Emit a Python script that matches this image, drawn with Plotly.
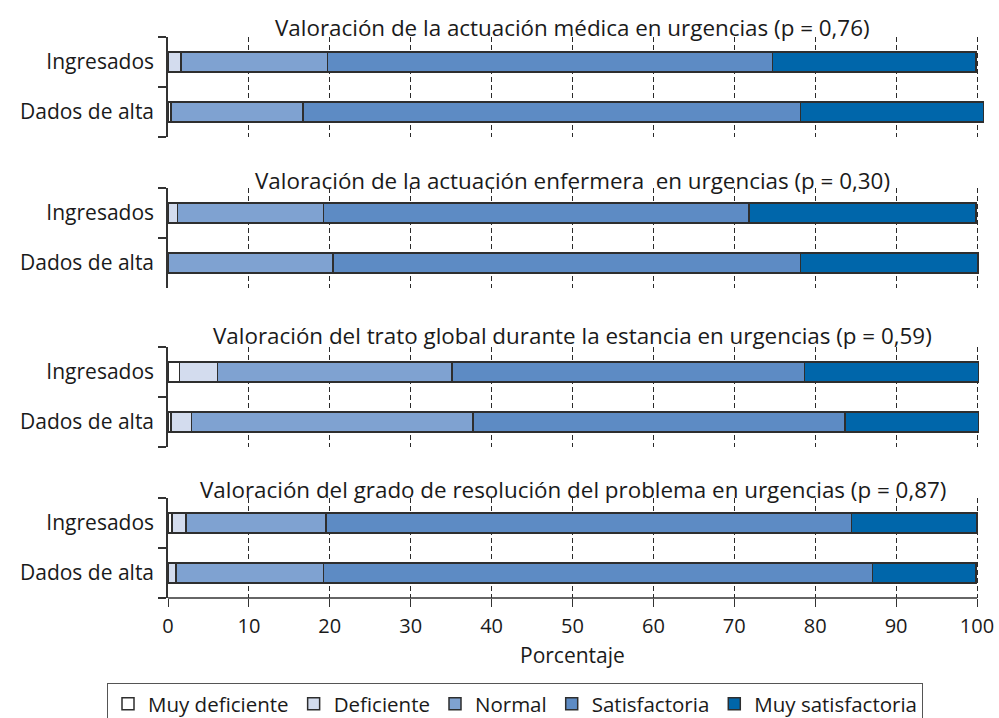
import plotly.graph_objects as go

# ---- data ----
groups = ["Dados de alta", "Ingresados"]
levels = ["Muy deficiente", "Deficiente", "Normal", "Satisfactoria", "Muy satisfactoria"]
colors = ["#ffffff", "#d3dcee", "#7fa2d1", "#5d8bc4", "#0066aa"]
titles = [
    "Valoración de la actuación médica en urgencias (p = 0,76)",
    "Valoración de la actuación enfermera  en urgencias (p = 0,30)",
    "Valoración del trato global durante la estancia en urgencias (p = 0,59)",
    "Valoración del grado de resolución del problema en urgencias (p = 0,87)",
]
# values per panel: [level][group] with group order [Dados de alta, Ingresados]
p1 = [[0.4, 0.0], [0.0, 1.6], [16.3, 18.1], [61.5, 55.0], [22.6, 25.2]]
p2 = [[0.0, 0.0], [0.0, 1.2], [20.4, 18.0], [57.8, 52.6], [21.9, 28.1]]
p3 = [[0.4, 1.4], [2.5, 4.7], [34.8, 29.0], [46.0, 43.6], [16.5, 21.5]]
p4 = [[0.0, 0.5], [1.0, 1.7], [18.2, 17.3], [67.9, 65.0], [12.8, 15.5]]
panels = [p1, p2, p3, p4]
xticks = list(range(0, 101, 10))

W, H = 999, 718
px_l = 168
px_per = 8.09
xmax = 102
x_dom = [px_l / W, (px_l + px_per * xmax) / W]
panel_px = [(37, 137), (188, 288), (347, 447), (498, 598)]
title_px = [28, 181, 335, 489]

def ypaper(p):
    return 1 - p / H

fig = go.Figure()
font_fam = "'Open Sans', Lato, sans-serif"
txt = "#1a1a1a"

for k, pdata in enumerate(panels):
    ax = "" if k == 0 else str(k + 1)
    for i, lev in enumerate(levels):
        vals = [v if v > 0 else None for v in pdata[i]]
        fig.add_trace(go.Bar(
            x=vals, y=groups, orientation="h", name=lev,
            marker=dict(color=colors[i], line=dict(color="#2e2e2e", width=1.5)),
            width=0.4, legendgroup=lev, showlegend=(k == 0),
            xaxis="x" + ax, yaxis="y" + ax,
            hovertemplate="%{y}: %{x}%<extra>" + lev + "</extra>",
        ))
    top, bot = panel_px[k]
    last = (k == len(panels) - 1)
    fig.update_layout(**{
        "xaxis" + ax: dict(
            domain=x_dom, range=[0, xmax], anchor="y" + ax,
            tickvals=xticks, showgrid=True, griddash="5px,3px", gridcolor="#2a2a2a",
            gridwidth=1, zeroline=False, showline=False,
            showticklabels=last, ticks="outside" if last else "",
            ticklen=8, tickcolor="#333", tickwidth=1,
            tickfont=dict(size=20, color=txt, family=font_fam),
            ticklabelstandoff=2,
            automargin=False, fixedrange=True,
            **({"matches": "x"} if k > 0 else {}),
        ),
        "yaxis" + ax: dict(
            domain=[ypaper(bot), ypaper(top)], anchor="x" + ax,
            type="category", categoryorder="array", categoryarray=groups,
            range=[-0.5, 1.5], showline=True, linecolor="#333", linewidth=1.5,
            ticks="outside", tickson="boundaries", ticklen=8, tickcolor="#333",
            tickwidth=1.5, showgrid=False, zeroline=False,
            tickfont=dict(size=21, color=txt, family=font_fam),
            ticklabelstandoff=8,
            automargin=False, fixedrange=True,
        ),
    })
    fig.add_annotation(
        text=titles[k], x=50, xref="x" + ax, y=ypaper(title_px[k]), yref="paper",
        xanchor="center", yanchor="middle", showarrow=False,
        font=dict(size=22.4, color=txt, family=font_fam),
    )

# bottom x-axis line from 0 to 100
fig.add_shape(type="line", xref="x4", yref="y4 domain", x0=0, x1=100, y0=0, y1=0,
              line=dict(color="#333", width=1.5))

fig.add_annotation(
    text="Porcentaje", x=50, xref="x4", y=ypaper(655), yref="paper",
    xanchor="center", yanchor="middle", showarrow=False,
    font=dict(size=21, color=txt, family=font_fam),
)

fig.update_layout(
    width=W, height=H, barmode="stack", bargap=0.6,
    margin=dict(l=0, r=0, t=0, b=0, autoexpand=False),
    paper_bgcolor="white", plot_bgcolor="white",
    font=dict(family=font_fam, color=txt),
    legend=dict(
        orientation="h", x=107 / W, y=ypaper(683), xanchor="left", yanchor="top",
        bordercolor="#555", borderwidth=1, font=dict(size=20.5, color=txt, family=font_fam),
        itemwidth=30, traceorder="normal", tracegroupgap=0,
    ),
)

fig.write_html(
    "out.html",
    config={"displayModeBar": False},
    post_script="document.body.style.margin='0';document.body.style.overflow='hidden';",
)
